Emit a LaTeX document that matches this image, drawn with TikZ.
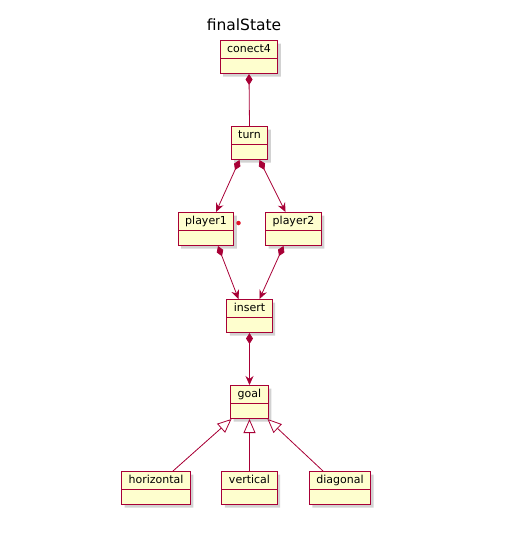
\documentclass[tikz,border=0pt]{standalone}
\usepackage{fontspec}
\setmainfont{DejaVu Sans}
\usepackage{tikz}
\usetikzlibrary{arrows.meta,shapes.multipart,shadows}
\definecolor{umlborder}{HTML}{A80036}
\definecolor{umlfill}{HTML}{FEFECE}
\definecolor{umldot}{HTML}{E0142A}
\tikzset{
	cls/.style={rectangle split, rectangle split parts=2, draw=umlborder, fill=umlfill,
		line width=1pt, inner xsep=7pt, inner ysep=3pt, text height=8.5pt, text depth=2.5pt,
		rectangle split empty part height=8pt, anchor=north,
		font=\fontsize{11}{13}\selectfont,
		drop shadow={shadow xshift=3pt, shadow yshift=-3pt, fill=black!35, opacity=0.5}},
	compo/.style={draw=umlborder, line width=0.8pt,
		{Diamond[length=11pt,width=7pt,fill=umlborder]}-{Stealth[length=9pt,width=8pt,inset=3pt]}},
	compoline/.style={draw=umlborder, line width=0.8pt, {Diamond[length=11pt,width=7pt,fill=umlborder]}-},
	extends/.style={draw=umlborder, line width=0.8pt, -{Triangle[open,length=14pt,width=12pt,fill=white]}}
}
\begin{document}
\begin{tikzpicture}[x=1pt,y=-1pt]
		\useasboundingbox (0,0) rectangle (509,536);
		%title
		\node[font=\fontsize{15.5}{18}\selectfont] (title) at (244,25) {finalState};
		
		%classes
		\node[cls] (conect4) at (249,40) {conect4\nodepart{two}};
		\node[cls] (turn) at (249.5,126) {turn\nodepart{two}};
		\node[cls] (player1) at (206,212) {player1\nodepart{two}};
		\node[cls] (player2) at (293.5,212) {player2\nodepart{two}};
		\node[cls] (insert) at (249.5,299) {insert\nodepart{two}};
		\node[cls] (goal) at (249.5,385) {goal\nodepart{two}};
		\node[cls] (horizontal) at (156,471) {horizontal\nodepart{two}};
		\node[cls] (vertical) at (249.5,471) {vertical\nodepart{two}};
		\node[cls] (diagonal) at (340,471) {diagonal\nodepart{two}};
		
		%small dot beside player1
		\node[circle, fill=umldot, inner sep=0pt, minimum size=4.5pt] (dot) at (238.5,223) {};
		
		%composition
		\draw[compoline] (conect4.south) -- (turn.north);
		\draw[compo] ([xshift=-10pt]turn.south) -- ([xshift=10pt]player1.north);
		\draw[compo] ([xshift=10pt]turn.south) -- ([xshift=-8pt]player2.north);
		\draw[compo] ([xshift=12pt]player1.south) -- ([xshift=-11pt]insert.north);
		\draw[compo] ([xshift=-10pt]player2.south) -- ([xshift=10pt]insert.north);
		\draw[compo] (insert.south) -- (goal.north);
		
		%inheritance
		\draw[extends] ([xshift=17pt]horizontal.north) -- ([xshift=-18pt]goal.south);
		\draw[extends] (vertical.north) -- (goal.south);
		\draw[extends] ([xshift=-17pt]diagonal.north) -- ([xshift=18pt]goal.south);
\end{tikzpicture}
\end{document}
